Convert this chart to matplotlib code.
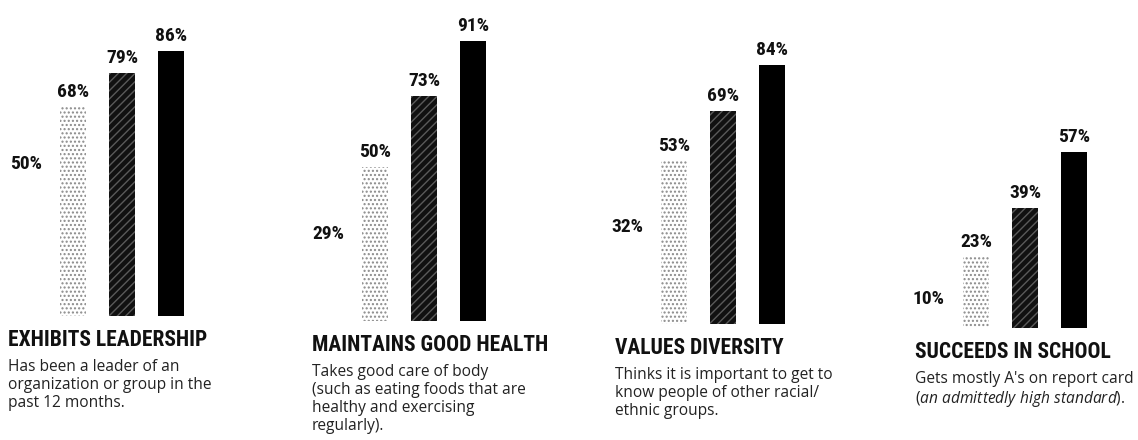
import matplotlib
matplotlib.use("Agg")
import matplotlib.pyplot as plt
from matplotlib import font_manager

# data
titles = ["EXHIBITS LEADERSHIP", "MAINTAINS GOOD HEALTH",
          "VALUES DIVERSITY", "SUCCEEDS IN SCHOOL"]
notes = ["Has been a leader of an\norganization or group in the\npast 12 months.",
         "Takes good care of body\n(such as eating foods that are\nhealthy and exercising\nregularly).",
         "Thinks it is important to get to\nknow people of other racial/\nethnic groups.",
         "Gets mostly A's on report card\n($\\it{an\\ admittedly\\ high\\ standard}$)."]
level0 = [50, 29, 32, 10]
level1 = [68, 50, 53, 23]
level2 = [79, 73, 69, 39]
level3 = [86, 91, 84, 57]

# look for a bold condensed face
cond_file = None
for key in ["robotocondensed-bold.ttf", "opensans-condbold", "dejavusanscondensed-bold.ttf"]:
    for f in font_manager.fontManager.ttflist:
        if key in f.fname.lower():
            cond_file = f.fname
            break
    if cond_file:
        break
if cond_file:
    cond = font_manager.FontProperties(fname=cond_file)
else:
    cond = font_manager.FontProperties(family="DejaVu Sans", weight="bold", stretch="condensed")

plt.rcParams['mathtext.fontset'] = 'custom'
plt.rcParams['mathtext.it'] = 'Open Sans:italic'
plt.rcParams['mathtext.rm'] = 'Open Sans'
plt.rcParams['hatch.linewidth'] = 1.0

W, H = 1138, 440
fig = plt.figure(figsize=(W / 100, H / 100), dpi=100)

# pixel layout of each group: centre of first bar, baseline
centres = [24, 326, 625, 927]
bases = [316, 321, 324, 328]
text_x = [8, 312, 615, 915]
step = 49.0      # px per bar slot
pxpct = 3.08     # px per percent

for i in range(4):
    left = (centres[i] - 0.5 * step) / W
    bottom = (H - bases[i]) / H
    ax = fig.add_axes([left, bottom, 4 * step / W, 100 * pxpct / H])
    ax.set_xlim(-0.5, 3.5)
    ax.set_ylim(0, 100)
    ax.axis("off")

    vals = [level0[i], level1[i], level2[i], level3[i]]
    ax.bar(0, vals[0], width=0.52, color="white", linewidth=0)
    ax.bar(1, vals[1], width=0.52, facecolor="white", edgecolor="#8a8a8a",
           hatch="....", linewidth=0)
    ax.bar(2, vals[2], width=0.52, facecolor="#111111", edgecolor="#5a5a5a",
           hatch="////", linewidth=0)
    ax.bar(3, vals[3], width=0.52, color="black", linewidth=0)

    for k, v in enumerate(vals):
        if k == 0:
            ax.annotate(f"{v}%", (k, v), xytext=(2, -2), textcoords="offset pixels",
                        ha="center", va="center", fontproperties=cond, fontsize=14,
                        color="#111111")
        else:
            ax.annotate(f"{v}%", (k, v), xytext=(0, 6), textcoords="offset pixels",
                        ha="center", va="bottom", fontproperties=cond, fontsize=14,
                        color="#111111")

    dx = text_x[i] - (centres[i] - 0.5 * step)
    ax.annotate(titles[i], (0, 0), xycoords="axes fraction",
                xytext=(dx, -13), textcoords="offset pixels",
                ha="left", va="top", fontproperties=cond, fontsize=15.5,
                color="#111111")
    ax.annotate(notes[i], (0, 0), xycoords="axes fraction",
                xytext=(dx, -43), textcoords="offset pixels",
                ha="left", va="top", fontsize=11.2, family="Open Sans",
                color="#222222", linespacing=1.17)

fig.savefig("out.png", dpi=100, facecolor="white")
